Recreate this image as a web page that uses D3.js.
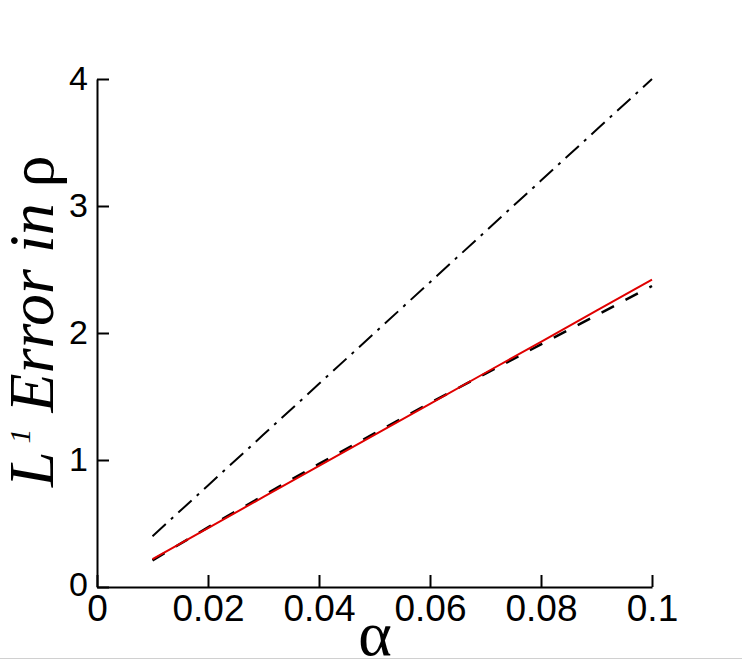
<!DOCTYPE html>
<html>
<head>
<meta charset="utf-8">
<script src="https://cdn.jsdelivr.net/npm/d3@7"></script>
<style>
  body { margin: 0; background: #fff; }
  svg { display: block; }
</style>
</head>
<body>
<svg id="chart" width="742" height="660"></svg>
<script>
// values
var alpha      = [0.01, 0.02, 0.03, 0.04, 0.05, 0.06, 0.07, 0.08, 0.09, 0.1];
var errRed     = [0.22, 0.464, 0.709, 0.953, 1.198, 1.442, 1.687, 1.931, 2.176, 2.42];
var errDashed  = [0.21, 0.47, 0.72, 0.97, 1.21, 1.45, 1.68, 1.91, 2.14, 2.37];
var errDashDot = [0.4, 0.8, 1.2, 1.6, 2.0, 2.4, 2.8, 3.2, 3.6, 4.0];
var xTicks = [0, 0.02, 0.04, 0.06, 0.08, 0.1];
var yTicks = [0, 1, 2, 3, 4];

var svg = d3.select("#chart");

var x = d3.scaleLinear().domain([0, 0.1]).range([97, 652]);
var y = d3.scaleLinear().domain([0, 4]).range([587, 79]);

var line = d3.line()
    .x(function(d) { return x(d[0]); })
    .y(function(d) { return y(d[1]); });

function pairs(vals) {
    return alpha.map(function(a, i) { return [a, vals[i]]; });
}

// dash-dot line
svg.append("path")
    .attr("d", line(pairs(errDashDot)))
    .attr("fill", "none")
    .attr("stroke", "#000")
    .attr("stroke-width", 2)
    .attr("stroke-dasharray", "18,7,3,7");

// dashed black under the red one
svg.append("path")
    .attr("d", line(pairs(errDashed)))
    .attr("fill", "none")
    .attr("stroke", "#000")
    .attr("stroke-width", 2.5)
    .attr("stroke-dasharray", "14,13");

svg.append("path")
    .attr("d", line(pairs(errRed)))
    .attr("fill", "none")
    .attr("stroke", "#e00000")
    .attr("stroke-width", 2);

// axes, ticks point inward
var xAxis = d3.axisBottom(x)
    .tickValues(xTicks)
    .tickFormat(function(d) { return d === 0 ? "0" : d3.format("")(+d.toFixed(2)); })
    .tickSize(-12)
    .tickSizeOuter(0)
    .tickPadding(8);

var yAxis = d3.axisLeft(y)
    .tickValues(yTicks)
    .tickFormat(d3.format("d"))
    .tickSize(-12)
    .tickSizeOuter(0)
    .tickPadding(9);

var gx = svg.append("g")
    .attr("transform", "translate(0," + y(0) + ")")
    .call(xAxis);
var gy = svg.append("g")
    .attr("transform", "translate(" + x(0) + ",0)")
    .call(yAxis);

[gx, gy].forEach(function(g) {
    g.selectAll("path, line").attr("stroke", "#000").attr("stroke-width", 2);
    g.selectAll("text")
        .attr("fill", "#000")
        .style("font-family", "'Liberation Sans', Arial, sans-serif");
});
gx.selectAll("text").style("font-size", "37px");
gy.selectAll("text").style("font-size", "34px");
gy.selectAll(".tick text").filter(function(d) { return d === 0; }).attr("dy", "0.25em");

// y axis title
var yt = svg.append("text")
    .attr("transform", "translate(53,487) rotate(-90)")
    .style("font-family", "'Liberation Serif', 'Times New Roman', serif")
    .style("font-style", "italic")
    .style("font-size", "64px")
    .attr("fill", "#000");
yt.append("tspan").text("L");
yt.append("tspan").attr("dx", 8).attr("dy", -23).style("font-size", "30px").text("1");
yt.append("tspan").attr("dy", 23).text(" Error in ");
yt.append("tspan").style("font-style", "normal").text("ρ");

// x axis title
svg.append("text")
    .attr("x", 375)
    .attr("y", 655)
    .attr("text-anchor", "middle")
    .style("font-family", "'Liberation Serif', 'Times New Roman', serif")
    .style("font-size", "64px")
    .attr("fill", "#000")
    .text("α");

// faint page edge at bottom
svg.append("line")
    .attr("x1", 0).attr("x2", 742)
    .attr("y1", 658.5).attr("y2", 658.5)
    .attr("stroke", "#d0d0d0")
    .attr("stroke-width", 1);
</script>
</body>
</html>
